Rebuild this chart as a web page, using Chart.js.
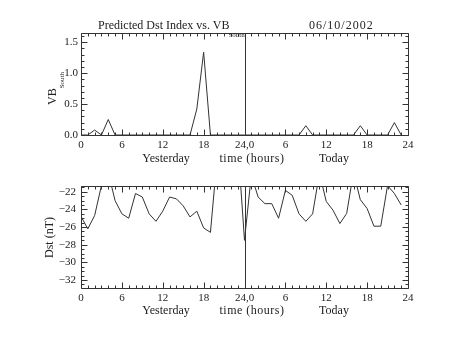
<!DOCTYPE html>
<html>
<head>
<meta charset="utf-8">
<script src="https://cdn.jsdelivr.net/npm/chart.js@4"></script>
<style>
  html, body { margin: 0; padding: 0; background: #fff; }
  #wrap { position: relative; width: 453px; height: 340px; overflow: hidden;
          font-family: "Liberation Serif", serif; color: #222; }
  canvas { position: absolute; left: 0; }
  .lbl { position: absolute; font-size: 12px; line-height: 12px; white-space: nowrap; }
  .ctr { transform: translateX(-50%); }
  .rot { transform: rotate(-90deg); transform-origin: 0 0; }
  .sub { font-size: 7px; vertical-align: -8px; }
</style>
</head>
<body>
<div id="wrap">
  <canvas id="chart-vb" width="453" height="170" style="top:0"></canvas>
  <canvas id="chart-dst" width="453" height="170" style="top:170px"></canvas>

  <div class="lbl" style="left:98px;top:19px;">Predicted Dst Index vs. VB<span class="sub" style="margin-left:-1px">South</span></div>
  <div class="lbl" style="left:309px;top:19px;letter-spacing:1px;">06/10/2002</div>

  <div class="lbl rot" style="left:46px;top:105px;">VB<span class="sub">South</span></div>
  <div class="lbl rot" style="left:43px;top:258px;">Dst (nT)</div>

  <div class="lbl ctr" style="left:166px;top:152px;">Yesterday</div>
  <div class="lbl ctr" style="left:252px;top:152px;letter-spacing:0.5px;">time (hours)</div>
  <div class="lbl ctr" style="left:334px;top:152px;">Today</div>
  <div class="lbl ctr" style="left:166px;top:304px;">Yesterday</div>
  <div class="lbl ctr" style="left:252px;top:304px;letter-spacing:0.5px;">time (hours)</div>
  <div class="lbl ctr" style="left:334px;top:304px;">Today</div>
</div>

<script>
// hours since start of yesterday (0-23 yesterday, 24-47 today)
const hours = [
  0, 1, 2, 3, 4, 5, 6, 7, 8, 9, 10, 11, 12, 13, 14, 15, 16, 17, 18, 19, 20, 21, 22, 23,
  24, 25, 26, 27, 28, 29, 30, 31, 32, 33, 34, 35, 36, 37, 38, 39, 40, 41, 42, 43, 44, 45, 46, 47,
];

const vbSouth = [
  0, 0, 0.08, 0, 0.25, 0, 0, 0, 0, 0, 0, 0, 0, 0, 0, 0, 0, 0.42, 1.34, 0, 0, 0, 0, 0,
  0, 0, 0, 0, 0, 0, 0, 0, 0, 0.15, 0, 0, 0, 0, 0, 0, 0, 0.15, 0, 0, 0, 0, 0.2, 0,
];

const dst = [
  -24.8, -26.2, -24.7, -21.3, -19.8, -23.0, -24.5, -25.0, -22.2, -22.6, -24.5, -25.35,
  -24.2, -22.6, -22.8, -23.6, -24.85, -24.2, -26.1, -26.6, -18.0, -17.5, -18.0, -16.4,
  -27.5, -20.1, -22.6, -23.35, -23.35, -25.0, -21.85, -22.4, -24.5, -25.35, -24.5, -19.9,
  -23.1, -24.1, -25.6, -24.45, -19.8, -22.9, -23.9, -25.9, -25.9, -21.3, -22.2, -23.5,
];

const xTickValues = [0, 6, 12, 18, 24, 30, 36, 42, 48];
const xTickLabels = ["0", "6", "12", "18", "24,0", "6", "12", "18", "24"];
const vbTicks = [0, 0.5, 1.0, 1.5];
const dstTicks = [-32, -30, -28, -26, -24, -22];

const LINE = "#333";
const TICK_FONT = { family: "Liberation Serif", size: 11 };

// IDL-style box: frame, inward ticks on all four sides, day divider
const idlFrame = {
  id: "idlFrame",
  afterDatasetsDraw(chart, args, opts) {
    const { ctx, chartArea: a, scales: { x, y } } = chart;
    const r = (v) => Math.round(v) + 0.5;
    const L = r(a.left), R = r(a.right), T = r(a.top), B = r(a.bottom);
    ctx.save();
    ctx.strokeStyle = LINE;
    ctx.lineWidth = 1;
    ctx.beginPath();
    ctx.moveTo(L, T); ctx.lineTo(R, T); ctx.lineTo(R, B); ctx.lineTo(L, B); ctx.closePath();

    const near = (v, list) => list.some((m) => Math.abs(m - v) < 1e-6);
    for (let v = x.min; v <= x.max + 1e-6; v += opts.xMinor) {
      const p = r(x.getPixelForValue(v));
      const len = near(v, xTickValues) ? 6 : 3;
      ctx.moveTo(p, B); ctx.lineTo(p, B - len);
      ctx.moveTo(p, T); ctx.lineTo(p, T + len);
    }
    const start = Math.ceil(y.min / opts.yMinor - 1e-6) * opts.yMinor;
    for (let v = start; v <= y.max + 1e-6; v += opts.yMinor) {
      const p = r(y.getPixelForValue(v));
      const len = near(v, opts.yMajor) ? 6 : 3;
      ctx.moveTo(L, p); ctx.lineTo(L + len, p);
      ctx.moveTo(R, p); ctx.lineTo(R - len, p);
    }
    const d = r(x.getPixelForValue(opts.divider));
    ctx.moveTo(d, T); ctx.lineTo(d, B);
    ctx.stroke();
    ctx.restore();
  },
};

// axisLeft / axisBottom: pixel room given to the y and x scales (tick labels live there)
function makeChart(id, values, yMin, yMax, yTicks, yMinor, yFmt, padding, yPad) {
  return new Chart(document.getElementById(id), {
    type: "line",
    data: {
      datasets: [{
        data: hours.map((h, i) => ({ x: h, y: values[i] })),
        borderColor: LINE,
        borderWidth: 1,
        pointRadius: 0,
        tension: 0,
        fill: false,
      }],
    },
    options: {
      responsive: false,
      animation: false,
      devicePixelRatio: 1,
      layout: { padding },
      plugins: {
        legend: { display: false },
        tooltip: { enabled: false },
        idlFrame: { xMinor: 1, yMinor, yMajor: yTicks, divider: 24 },
      },
      scales: {
        x: {
          type: "linear",
          min: 0,
          max: 48,
          grid: { display: false, drawTicks: false },
          border: { display: false },
          afterBuildTicks: (s) => { s.ticks = xTickValues.map((v) => ({ value: v })); },
          afterFit: (s) => { s.height = 22; },
          ticks: {
            autoSkip: false, maxRotation: 0, padding: 4, color: "#222", font: TICK_FONT,
            callback: (v, i) => xTickLabels[i],
          },
        },
        y: {
          type: "linear",
          min: yMin,
          max: yMax,
          grid: { display: false, drawTicks: false },
          border: { display: false },
          afterBuildTicks: (s) => { s.ticks = yTicks.map((v) => ({ value: v })); },
          afterFit: (s) => { s.width = 81; },
          ticks: { autoSkip: false, padding: yPad, color: "#222", font: TICK_FONT, callback: yFmt },
        },
      },
    },
    plugins: [idlFrame],
  });
}

makeChart("chart-vb", vbSouth, 0, 1.65, vbTicks, 0.1,
  (v) => Number(v).toFixed(1), { left: 0, right: 45, top: 33, bottom: 13 }, 3);
makeChart("chart-dst", dst, -32.9, -21.35, dstTicks, 0.5,
  (v) => String(v).replace("-", "\u2212"), { left: 0, right: 45, top: 16, bottom: 30 }, 5);
</script>
</body>
</html>
